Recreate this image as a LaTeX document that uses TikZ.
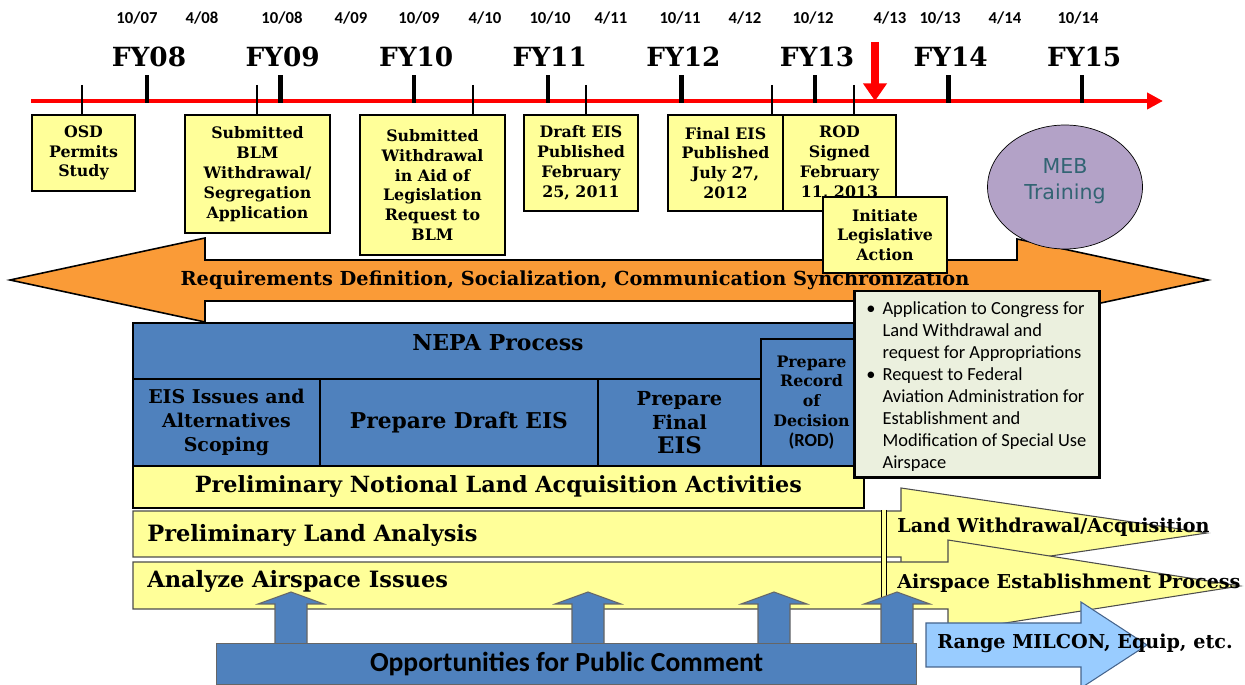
\documentclass[tikz,border=0pt]{standalone}
\usepackage{fontspec}
\setmainfont{DejaVu Serif}
\newfontfamily\calfont{Carlito}
\newfontfamily\mebfont{DejaVu Sans}
\usepackage{xcolor}
\usetikzlibrary{arrows.meta, positioning, shapes.geometric}

\definecolor{boxyellow}{RGB}{255,255,153}
\definecolor{nepablue}{RGB}{79,129,189}
\definecolor{reqorange}{RGB}{250,155,55}
\definecolor{mebpurple}{RGB}{179,162,199}
\definecolor{mebtext}{RGB}{50,100,115}
\definecolor{calloutfill}{RGB}{235,240,222}
\definecolor{milconblue}{RGB}{153,204,255}
\definecolor{milconedge}{RGB}{70,100,140}

\begin{document}
\begin{tikzpicture}[
    x=0.02cm, y=-0.02cm,
    evbox/.style={draw, line width=1.1pt, fill=boxyellow, inner sep=0pt, outer sep=0pt, anchor=north west, align=center, font={\bfseries\fontsize{9}{11.3}\selectfont}},
    evtick/.style={line width=1pt},
    yrtick/.style={line width=2.6pt},
    yrlabel/.style={font={\bfseries\fontsize{15}{18}\selectfont}},
    datelabel/.style={font={\calfont\bfseries\fontsize{9.5}{11}\selectfont}},
    cell/.style={draw, line width=1.1pt, fill=nepablue, inner sep=0pt, outer sep=0pt, anchor=north west, align=center},
    band/.style={draw=black!70, line width=0.6pt, fill=boxyellow},
    bandlabel/.style={anchor=west, inner sep=0pt, font={\bfseries\fontsize{12.8}{15}\selectfont}},
    arrowlabel/.style={anchor=west, inner sep=0pt, font={\bfseries\fontsize{10.9}{13}\selectfont}},
    pubarrow/.style={draw=black!60, line width=0.6pt, fill=nepablue}
]
    \clip (0,0) rectangle (1245,685);

    \coordinate (tstart) at (31,101);
    \coordinate (tend) at (1163,101);
    \draw[red, line width=2.5pt, -{Triangle[length=9pt, width=9pt]}] (tstart) -- (tend);

    \foreach \yr [count=\i from 0] in {08,09,10,11,12,13,14,15} {
        \coordinate (fy\yr) at ({147+133.6*\i},103);
        \draw[yrtick] (fy\yr) -- ++(0,-28);
        \node[yrlabel] (fylab\yr) at ({149+133.6*\i},57) {FY\yr};
    }

    \foreach \x/\d [count=\i] in {137/{10/07}, 202/{4/08}, 282/{10/08}, 351/{4/09}, 419/{10/09}, 485/{4/10}, 550/{10/10}, 611/{4/11}, 680/{10/11}, 745/{4/12}, 813/{10/12}, 890/{4/13}, 940/{10/13}, 1005/{4/14}, 1078/{10/14}}
        \node[datelabel] (date\i) at (\x,18) {\d};

    \coordinate (now) at (875,42);
    \draw[red, line width=4.5pt, -{Triangle[length=10pt, width=13pt]}] (now) -- (now |- tend);

    \draw[fill=reqorange, line width=0.9pt] (10,280) -- (205,238) -- (205,260) -- (1017,260) -- (1017,239) -- (1208,280) -- (1017,321) -- (1017,301) -- (205,301) -- (205,322) -- cycle;
    \node[font={\bfseries\fontsize{11}{13}\selectfont}] (req) at (575,280) {Requirements Definition, Socialization, Communication Synchronization};

    \node[evbox, minimum width=2.06cm, minimum height=1.52cm] (osd) at (32,115) {OSD\\Permits\\Study};
    \node[evbox, minimum width=2.9cm, minimum height=2.36cm] (blm) at (185,115) {Submitted\\BLM\\Withdrawal/\\Segregation\\Application};
    \node[evbox, minimum width=2.9cm, minimum height=2.8cm] (aid) at (360,115) {Submitted\\Withdrawal\\in Aid of\\Legislation\\Request to\\BLM};
    \node[evbox, minimum width=2.28cm, minimum height=1.92cm] (draft) at (524,115) {Draft EIS\\Published\\February\\25, 2011};
    \node[evbox, minimum width=2.3cm, minimum height=1.92cm] (final) at (668,115) {Final EIS\\Published\\July 27,\\2012};
    \node[evbox, minimum width=2.26cm, minimum height=1.92cm] (rod) at (783,115) {ROD\\Signed\\February\\11, 2013};
    \node[evbox, minimum width=2.48cm, minimum height=1.52cm] (initiate) at (823,197) {Initiate\\Legislative\\Action};

    \foreach \x/\ev in {82/osd, 257/blm, 473/aid, 586/draft, 772/final, 854/rod} {
        \coordinate (tick-\ev) at (\x,85);
        \draw[evtick] (tick-\ev) -- (tick-\ev |- \ev.north);
    }

    \node[draw, ellipse, fill=mebpurple, minimum width=3.1cm, minimum height=2.48cm] (meb) at (1065,187) {};
    \node[text=mebtext, align=center, font={\mebfont\fontsize{11.7}{14.7}\selectfont}] (mebtxt) at (1065,181) {MEB\\Training};

    \node[cell, minimum width=14.58cm, minimum height=2.86cm] (nepa) at (133,323) {};
    \node[font={\bfseries\fontsize{12.5}{15}\selectfont}] (nepatitle) at (498,343) {NEPA Process};
    \node[cell, minimum width=3.74cm, minimum height=1.74cm, font={\bfseries\fontsize{10.8}{13.6}\selectfont}] (scoping) at (133,379) {EIS Issues and\\Alternatives\\Scoping};
    \node[cell, minimum width=5.56cm, minimum height=1.74cm, font={\bfseries\fontsize{12.4}{14}\selectfont}] (draftcell) at (320,379) {Prepare Draft EIS};
    \node[cell, minimum width=3.26cm, minimum height=1.74cm, font={\bfseries\fontsize{11}{13.6}\selectfont}] (finalcell) at (598,379) {Prepare\\Final\\{\fontsize{13}{13.6}\selectfont EIS}};
    \node[cell, minimum width=2.02cm, minimum height=2.54cm, font={\bfseries\fontsize{9}{11.3}\selectfont}] (rodcell) at (761,339) {Prepare\\Record\\of\\Decision\\{\calfont\fontsize{10.5}{11.3}\selectfont (ROD)}};
    \node[evbox, minimum width=14.62cm, minimum height=0.84cm, font={\bfseries\fontsize{12.7}{15}\selectfont}] (notional) at (133,466) {Preliminary Notional Land Acquisition Activities};

    \node[draw, line width=1.7pt, fill=calloutfill, inner sep=0pt, outer sep=0pt, anchor=north west, minimum width=4.92cm, minimum height=3.74cm] (callout) at (854,291) {};
    \node[anchor=north west, inner sep=0pt, font={\calfont\fontsize{10.5}{12.5}\selectfont}] (calltxt) at (866,299) {%
        \begin{tabular}{@{}l@{\hspace{4pt}}l@{}}
        \textbullet & Application to Congress for\\
                    & Land Withdrawal and\\
                    & request for Appropriations\\
        \textbullet & Request to Federal\\
                    & Aviation Administration for\\
                    & Establishment and\\
                    & Modification of Special Use\\
                    & Airspace
        \end{tabular}};

    \draw[band] (133,511) -- (901,511) -- (901,488) -- (1207,533) -- (901,578) -- (901,557) -- (133,557) -- cycle;
    \draw[band] (133,562) -- (948,562) -- (948,540) -- (1240,586) -- (948,632) -- (948,609) -- (133,609) -- cycle;
    \node[bandlabel] (landan) at (147,535) {Preliminary Land Analysis};
    \node[bandlabel] (airan) at (147,581) {Analyze Airspace Issues};
    \node[arrowlabel] (landwd) at (897,527) {Land Withdrawal/Acquisition};
    \node[arrowlabel] (airest) at (897,583) {Airspace Establishment Process};

    \coordinate (split1) at (884,510);
    \coordinate (split2) at (884,598);
    \draw[line width=0.6pt, double=boxyellow, double distance=2.5pt] (split1) -- (split2);

    \draw[draw=milconedge, fill=milconblue, line width=0.6pt] (926,623) -- (1081,623) -- (1081,602) -- (1147,645) -- (1081,688) -- (1081,667) -- (926,667) -- cycle;
    \node[arrowlabel] (milcon) at (937,643) {Range MILCON, Equip, etc.};

    \foreach \x in {291,588,774,897}
        \draw[pubarrow] (\x-16,655) -- (\x-16,604) -- (\x-33,604) -- (\x,592) -- (\x+33,604) -- (\x+16,604) -- (\x+16,655) -- cycle;

    \node[draw=black!60, line width=0.8pt, fill=nepablue, inner sep=0pt, anchor=north west, minimum width=14cm, minimum height=0.82cm, font={\calfont\bfseries\fontsize{15.7}{18}\selectfont}] (pub) at (216,643) {Opportunities for Public Comment};
\end{tikzpicture}
\end{document}
